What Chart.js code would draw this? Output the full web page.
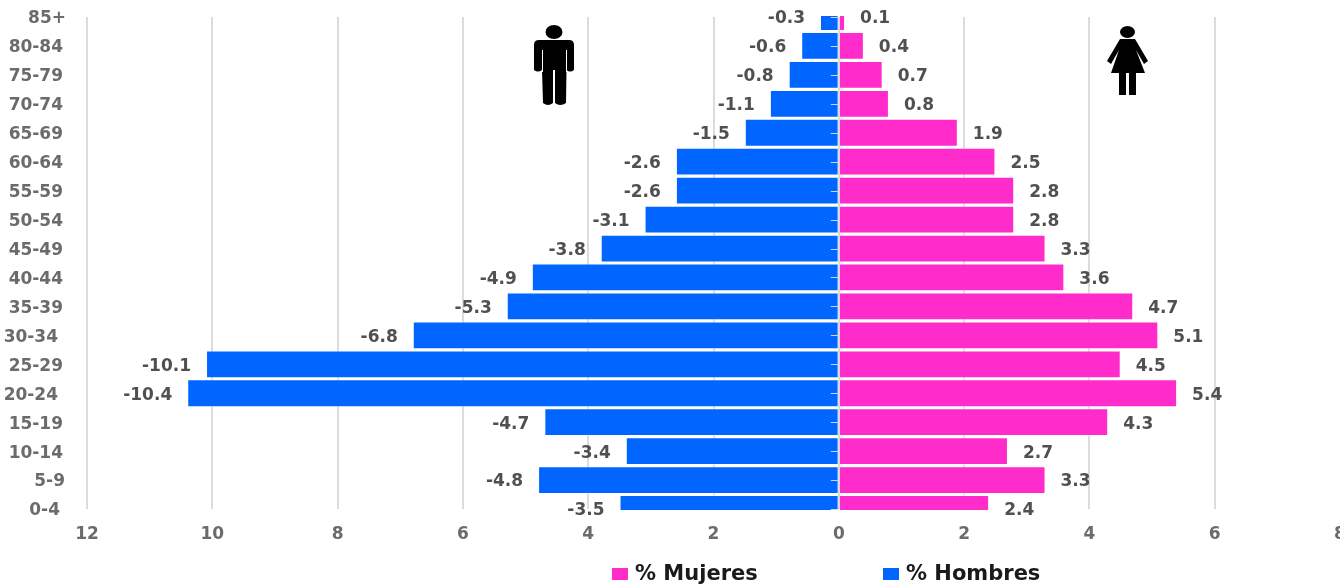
<!DOCTYPE html>
<html>
<head>
<meta charset="utf-8">
<title>Pirámide de población</title>
<script src="https://cdn.jsdelivr.net/npm/chart.js@4"></script>
<style>
    html, body { margin: 0; padding: 0; background: #fff; }
    #box { position: relative; width: 1340px; height: 584px; overflow: hidden; }
</style>
</head>
<body>
<div id="box"><canvas id="piramide"></canvas></div>
<script>
const grupos = ["85+", "80-84", "75-79", "70-74", "65-69", "60-64", "55-59", "50-54", "45-49",
    "40-44", "35-39", "30-34", "25-29", "20-24", "15-19", "10-14", "5-9", "0-4"];
const mujeres = [0.1, 0.4, 0.7, 0.8, 1.9, 2.5, 2.8, 2.8, 3.3, 3.6, 4.7, 5.1, 4.5, 5.4, 4.3, 2.7, 3.3, 2.4];
const hombres = [-0.3, -0.6, -0.8, -1.1, -1.5, -2.6, -2.6, -3.1, -3.8, -4.9, -5.3, -6.8, -10.1, -10.4, -4.7, -3.4, -4.8, -3.5];
const nombreMujeres = "% Mujeres";
const nombreHombres = "% Hombres";

const fuente = '"DejaVu Sans", sans-serif';
const colorMujeres = "#FF2BCB";
const colorHombres = "#0066FF";

// Algunos rótulos de edad no quedan alineados con el resto
const sangria = { "85+": 3, "30-34": -5, "20-24": -5, "5-9": 2, "0-4": -3 };

// Rótulos de edad junto al eje vertical
const rotulosEdad = {
    id: "rotulosEdad",
    afterDraw(chart) {
        const ctx = chart.ctx;
        ctx.save();
        ctx.font = "bold 17px " + fuente;
        ctx.fillStyle = "#6b6b6b";
        ctx.textBaseline = "middle";
        ctx.textAlign = "right";
        grupos.forEach((g, i) => {
            ctx.fillText(g, 63 + (sangria[g] || 0), chart.scales.y.getPixelForValue(i) + 2);
        });
        ctx.restore();
    }
};

// Valor de cada barra escrito junto a su extremo
const etiquetas = {
    id: "etiquetas",
    afterDatasetsDraw(chart) {
        const ctx = chart.ctx;
        ctx.save();
        ctx.font = "bold 17px " + fuente;
        ctx.fillStyle = "#505050";
        ctx.textBaseline = "middle";
        chart.data.datasets.forEach((ds, i) => {
            chart.getDatasetMeta(i).data.forEach((barra, j) => {
                const valor = ds.data[j];
                ctx.textAlign = valor < 0 ? "right" : "left";
                ctx.fillText(valor.toFixed(1), barra.x + (valor < 0 ? -15 : 15), barra.y + 2);
            });
        });
        ctx.restore();
    }
};

// Marcas cortas del eje vertical, sobre las barras
const marcasEje = {
    id: "marcasEje",
    afterDatasetsDraw(chart) {
        const ctx = chart.ctx;
        const x0 = chart.scales.x.getPixelForValue(0);
        ctx.save();
        ctx.strokeStyle = "#d0d4dc";
        ctx.lineWidth = 1;
        ctx.beginPath();
        grupos.forEach((g, i) => {
            const y = Math.round(chart.scales.y.getPixelForValue(i)) + 0.5;
            ctx.moveTo(x0 - 8, y);
            ctx.lineTo(x0, y);
        });
        ctx.stroke();
        ctx.restore();
    }
};

// Leyenda abajo, cuadrado de color y nombre de la serie
const leyenda = {
    id: "leyenda",
    afterDraw(chart) {
        const ctx = chart.ctx;
        const posiciones = [612, 883];
        ctx.save();
        ctx.font = "bold 21px " + fuente;
        ctx.textBaseline = "middle";
        ctx.textAlign = "left";
        chart.data.datasets.forEach((ds, i) => {
            ctx.fillStyle = ds.backgroundColor;
            ctx.fillRect(posiciones[i], 568, 16, 12);
            ctx.fillStyle = "#1a1a1a";
            ctx.fillText(ds.label, posiciones[i] + 23, 575);
        });
        ctx.restore();
    }
};

function hombre(ctx) {
    ctx.beginPath();
    ctx.ellipse(554, 32, 8.5, 7, 0, 0, Math.PI * 2);
    ctx.fill();
    ctx.beginPath();
    ctx.moveTo(539, 40);
    ctx.lineTo(569, 40);
    ctx.quadraticCurveTo(574, 40, 574, 45);
    ctx.lineTo(574, 70);
    ctx.quadraticCurveTo(570, 73, 566.5, 70);
    ctx.lineTo(566, 103);
    ctx.quadraticCurveTo(560, 107, 555, 103);
    ctx.lineTo(555, 70);
    ctx.lineTo(553, 70);
    ctx.lineTo(553, 103);
    ctx.quadraticCurveTo(548, 107, 543, 103);
    ctx.lineTo(542, 70);
    ctx.quadraticCurveTo(538, 73, 534, 70);
    ctx.lineTo(534, 45);
    ctx.quadraticCurveTo(534, 40, 539, 40);
    ctx.fill();
    // separación entre brazos y tronco
    ctx.strokeStyle = "#fff";
    ctx.lineWidth = 1;
    ctx.beginPath();
    ctx.moveTo(542.5, 50);
    ctx.lineTo(542.5, 72);
    ctx.moveTo(566.5, 50);
    ctx.lineTo(566.5, 72);
    ctx.stroke();
}

function mujer(ctx) {
    ctx.beginPath();
    ctx.ellipse(1127.5, 32, 7.5, 6, 0, 0, Math.PI * 2);
    ctx.fill();
    ctx.beginPath();
    ctx.moveTo(1120, 39);
    ctx.lineTo(1135, 39);
    ctx.lineTo(1148, 61);
    ctx.lineTo(1144, 64);
    ctx.lineTo(1136, 50);
    ctx.lineTo(1145, 73);
    ctx.lineTo(1136, 73);
    ctx.lineTo(1136, 95);
    ctx.lineTo(1129, 95);
    ctx.lineTo(1129, 73);
    ctx.lineTo(1126, 73);
    ctx.lineTo(1126, 95);
    ctx.lineTo(1119, 95);
    ctx.lineTo(1119, 73);
    ctx.lineTo(1111, 73);
    ctx.lineTo(1119, 50);
    ctx.lineTo(1111, 64);
    ctx.lineTo(1107, 61);
    ctx.closePath();
    ctx.fill();
}

const figuras = {
    id: "figuras",
    afterDraw(chart) {
        chart.ctx.save();
        chart.ctx.fillStyle = "#000";
        hombre(chart.ctx);
        mujer(chart.ctx);
        chart.ctx.restore();
    }
};

new Chart(document.getElementById("piramide"), {
    type: "bar",
    data: {
        labels: grupos,
        datasets: [
            {
                label: nombreMujeres,
                data: mujeres,
                backgroundColor: colorMujeres,
                borderColor: "rgba(255,255,255,0.55)",
                borderWidth: 1,
                barPercentage: 0.96,
                categoryPercentage: 1,
                clip: 1
            },
            {
                label: nombreHombres,
                data: hombres,
                backgroundColor: colorHombres,
                borderColor: "rgba(255,255,255,0.55)",
                borderWidth: 1,
                barPercentage: 0.96,
                categoryPercentage: 1,
                clip: 1
            }
        ]
    },
    options: {
        indexAxis: "y",
        responsive: true,
        maintainAspectRatio: false,
        animation: false,
        layout: { autoPadding: false, padding: { top: 17, bottom: 40 } },
        plugins: {
            legend: { display: false },
            tooltip: { enabled: false }
        },
        scales: {
            x: {
                stacked: true,
                min: -12,
                max: 8,
                afterFit(scale) {
                    scale.height = 35;
                    scale.paddingLeft = 0;
                    scale.paddingRight = 0;
                },
                border: { display: false },
                grid: {
                    color: c => c.tick && c.tick.value === 8 ? "transparent" : "#dcdcdc",
                    lineWidth: 2,
                    drawTicks: false
                },
                ticks: {
                    stepSize: 2,
                    maxRotation: 0,
                    padding: 15,
                    color: "#6b6b6b",
                    font: { family: fuente, weight: "bold", size: 17 },
                    callback: v => Math.abs(v)
                }
            },
            y: {
                stacked: true,
                offset: false,
                afterFit(scale) {
                    scale.width = 87;
                    scale.paddingTop = 0;
                    scale.paddingBottom = 0;
                },
                border: { display: false },
                grid: { display: false, drawTicks: false },
                ticks: { display: false, autoSkip: false }
            }
        }
    },
    plugins: [etiquetas, marcasEje, rotulosEdad, figuras, leyenda]
});
</script>
</body>
</html>
